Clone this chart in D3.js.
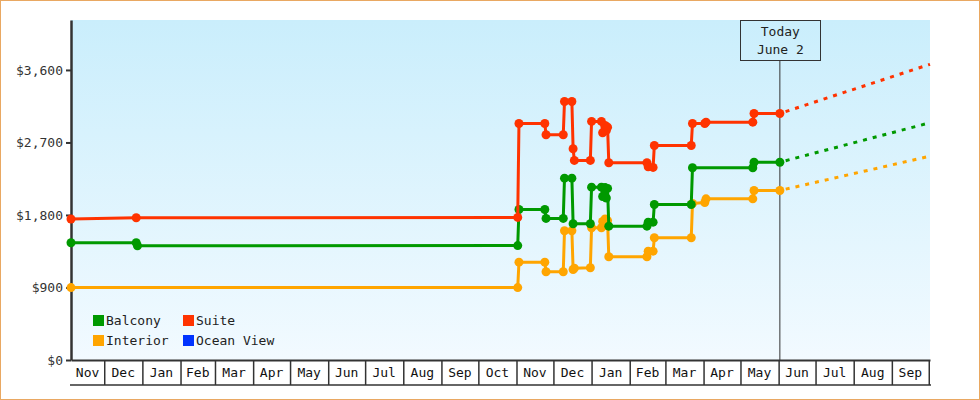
<!DOCTYPE html>
<html>
<head>
<meta charset="utf-8">
<script src="https://cdn.jsdelivr.net/npm/d3@7"></script>
<style>
body { margin: 0; background: #fff; }
svg { display: block; font-family: "DejaVu Sans Mono", monospace; }
</style>
</head>
<body>
<div id="chart"></div>
<script>
// Data
const seriesNames = ["Balcony", "Suite", "Interior", "Ocean View"];
const seriesColors = ["#009900", "#ff3300", "#ffa500", "#0033ff"];

const balcony = [
    ["2022-11-04", 1455], ["2022-12-27", 1455], ["2022-12-28", 1418], ["2023-11-02", 1420],
    ["2023-11-03", 1868], ["2023-11-24", 1868], ["2023-11-25", 1757], ["2023-12-09", 1757],
    ["2023-12-10", 2257], ["2023-12-16", 2257], ["2023-12-17", 1691], ["2023-12-31", 1691],
    ["2024-01-01", 2145], ["2024-01-09", 2145], ["2024-01-10", 2030], ["2024-01-12", 2140],
    ["2024-01-13", 2010], ["2024-01-14", 2130], ["2024-01-15", 1661], ["2024-02-15", 1661],
    ["2024-02-16", 1711], ["2024-02-20", 1711], ["2024-02-21", 1930], ["2024-03-22", 1930],
    ["2024-03-23", 2386], ["2024-05-11", 2386], ["2024-05-12", 2455], ["2024-06-02", 2455]
];
const suite = [
    ["2022-11-04", 1750], ["2022-12-27", 1765], ["2023-11-02", 1770], ["2023-11-03", 2936],
    ["2023-11-24", 2936], ["2023-11-25", 2796], ["2023-12-09", 2796], ["2023-12-10", 3209],
    ["2023-12-16", 3209], ["2023-12-17", 2622], ["2023-12-18", 2477], ["2023-12-31", 2477],
    ["2024-01-01", 2961], ["2024-01-09", 2961], ["2024-01-10", 2820], ["2024-01-12", 2910],
    ["2024-01-13", 2850], ["2024-01-14", 2890], ["2024-01-15", 2448], ["2024-02-15", 2448],
    ["2024-02-16", 2398], ["2024-02-20", 2390], ["2024-02-21", 2663], ["2024-03-22", 2663],
    ["2024-03-23", 2936], ["2024-04-02", 2936], ["2024-04-03", 2952], ["2024-05-11", 2952],
    ["2024-05-12", 3060], ["2024-06-02", 3060]
];
const interior = [
    ["2022-11-04", 899], ["2023-11-02", 899], ["2023-11-03", 1214], ["2023-11-24", 1214],
    ["2023-11-25", 1095], ["2023-12-09", 1095], ["2023-12-10", 1604], ["2023-12-16", 1604],
    ["2023-12-17", 1123], ["2023-12-18", 1140], ["2023-12-31", 1145], ["2024-01-01", 1641],
    ["2024-01-09", 1641], ["2024-01-10", 1720], ["2024-01-12", 1750], ["2024-01-13", 1670],
    ["2024-01-14", 1730], ["2024-01-15", 1281], ["2024-02-15", 1281], ["2024-02-16", 1351],
    ["2024-02-20", 1351], ["2024-02-21", 1517], ["2024-03-22", 1517], ["2024-03-23", 1943],
    ["2024-04-02", 1955], ["2024-04-03", 2000], ["2024-05-11", 2000], ["2024-05-12", 2104],
    ["2024-06-02", 2104]
];
const oceanView = [];

// projected prices at the right edge (Balcony, Suite, Interior, Ocean View)
const forecastDate = "2024-10-02";
const forecastPrices = [2945, 3670, 2530, null];

const todayDate = "2024-06-02";
const todayLabel = ["Today", "June 2"];
const xDomain = ["2022-11-04", "2024-10-02"];
const yMax = 4220;
const yTicks = [0, 900, 1800, 2700, 3600];

const chart = {width: 980, height: 400, margin: {top: 20, right: 50, bottom: 40, left: 71}};
chart.innerWidth = chart.width - chart.margin.left - chart.margin.right;
chart.innerHeight = chart.height - chart.margin.top - chart.margin.bottom;

const parse = d3.utcParse("%Y-%m-%d");
const allSeries = [balcony, suite, interior, oceanView].map(s => s.map(d => ({date: parse(d[0]), price: d[1]})));

const svg = d3.select("#chart").append("svg")
    .attr("width", chart.width)
    .attr("height", chart.height);

// outer frame
svg.append("rect")
    .attr("x", 0.5).attr("y", 0.5)
    .attr("width", chart.width - 1).attr("height", chart.height - 1)
    .attr("fill", "#fff").attr("stroke", "#e9a862");

const defs = svg.append("defs");
const grad = defs.append("linearGradient").attr("id", "bg").attr("x1", 0).attr("y1", 0).attr("x2", 0).attr("y2", 1);
grad.append("stop").attr("offset", "0%").attr("stop-color", "#caeefc");
grad.append("stop").attr("offset", "100%").attr("stop-color", "#f2faff");

const g = svg.append("g").attr("transform", `translate(${chart.margin.left}, ${chart.margin.top})`);

const x = d3.scaleUtc().domain(xDomain.map(parse)).range([0, chart.innerWidth]);
const y = d3.scaleLinear().domain([0, yMax]).range([chart.innerHeight, 0]);

g.append("rect")
    .attr("width", chart.innerWidth).attr("height", chart.innerHeight)
    .attr("fill", "url(#bg)");

// x axis: month separators + labels centred in each band
const monthAxis = g.append("g")
    .attr("transform", `translate(0, ${chart.innerHeight})`)
    .call(d3.axisBottom(x).ticks(d3.utcMonth.every(1)).tickSize(25).tickSizeOuter(0).tickFormat(""));
monthAxis.select(".domain").attr("stroke", "#333").attr("stroke-width", 2);
monthAxis.selectAll(".tick line").attr("stroke", "#333").attr("stroke-width", 1.5);

g.append("line")
    .attr("x1", -1).attr("x2", chart.innerWidth + 1)
    .attr("y1", chart.innerHeight + 25).attr("y2", chart.innerHeight + 25)
    .attr("stroke", "#333").attr("stroke-width", 1.5);

const bounds = [x.domain()[0], ...d3.utcMonth.range(d3.utcMonth.ceil(x.domain()[0]), x.domain()[1]), x.domain()[1]];
const bands = d3.pairs(bounds).filter(([a, b]) => x(b) - x(a) > 20);
g.append("g").selectAll("text").data(bands).join("text")
    .attr("x", d => (x(d[0]) + x(d[1])) / 2)
    .attr("y", chart.innerHeight + 17)
    .attr("text-anchor", "middle")
    .attr("font-size", 13)
    .attr("fill", "#111")
    .text(d => d3.utcFormat("%b")(d[0]));

// y axis
const yAxis = g.append("g")
    .call(d3.axisLeft(y).tickValues(yTicks).tickSize(5).tickSizeOuter(0).tickPadding(3)
        .tickFormat(d => "$" + d3.format(",")(d)));
yAxis.select(".domain").attr("stroke", "#333").attr("stroke-width", 2.5);
yAxis.selectAll(".tick line").attr("stroke", "#333").attr("stroke-width", 2);
yAxis.selectAll(".tick text").attr("font-size", 13).attr("fill", "#333")
    .attr("font-family", "DejaVu Sans Mono, monospace");

// today marker
const tx = x(parse(todayDate));
g.append("line")
    .attr("x1", tx).attr("x2", tx).attr("y1", 40).attr("y2", chart.innerHeight)
    .attr("stroke", "#333").attr("stroke-width", 1);
g.append("rect")
    .attr("x", Math.round(tx) - 39.5).attr("y", 0.5).attr("width", 80).attr("height", 40)
    .attr("fill", "none").attr("stroke", "#333").attr("stroke-width", 1);
g.append("g").selectAll("text").data(todayLabel).join("text")
    .attr("x", tx + 0.5).attr("y", (d, i) => 16 + i * 18)
    .attr("text-anchor", "middle").attr("font-size", 13).attr("fill", "#222")
    .text(d => d);

// price lines
const line = d3.line().x(d => x(d.date)).y(d => y(d.price));
const drawOrder = [2, 0, 1, 3];

drawOrder.forEach(i => {
    const s = allSeries[i];
    if (!s.length) return;
    const last = s[s.length - 1];
    g.append("path")
        .datum([last, {date: parse(forecastDate), price: forecastPrices[i]}])
        .attr("d", line)
        .attr("fill", "none").attr("stroke", seriesColors[i])
        .attr("stroke-width", 3).attr("stroke-dasharray", "4,6")
        .attr("stroke-dashoffset", -6);
    g.append("path")
        .datum(s)
        .attr("d", line)
        .attr("fill", "none").attr("stroke", seriesColors[i])
        .attr("stroke-width", 3).attr("stroke-linejoin", "round");
    g.append("g").selectAll("circle").data(s).join("circle")
        .attr("cx", d => x(d.date)).attr("cy", d => y(d.price))
        .attr("r", 4.5).attr("fill", seriesColors[i]);
});

// legend
const legend = g.append("g").attr("transform", "translate(22, 295)");
const items = legend.selectAll("g").data(seriesNames).join("g")
    .attr("transform", (d, i) => `translate(${(i % 2) * 90}, ${Math.floor(i / 2) * 20})`);
items.append("rect").attr("width", 11).attr("height", 11).attr("fill", (d, i) => seriesColors[i]);
items.append("text").attr("x", 13).attr("y", 10).attr("font-size", 13).attr("fill", "#222").text(d => d);
</script>
</body>
</html>
